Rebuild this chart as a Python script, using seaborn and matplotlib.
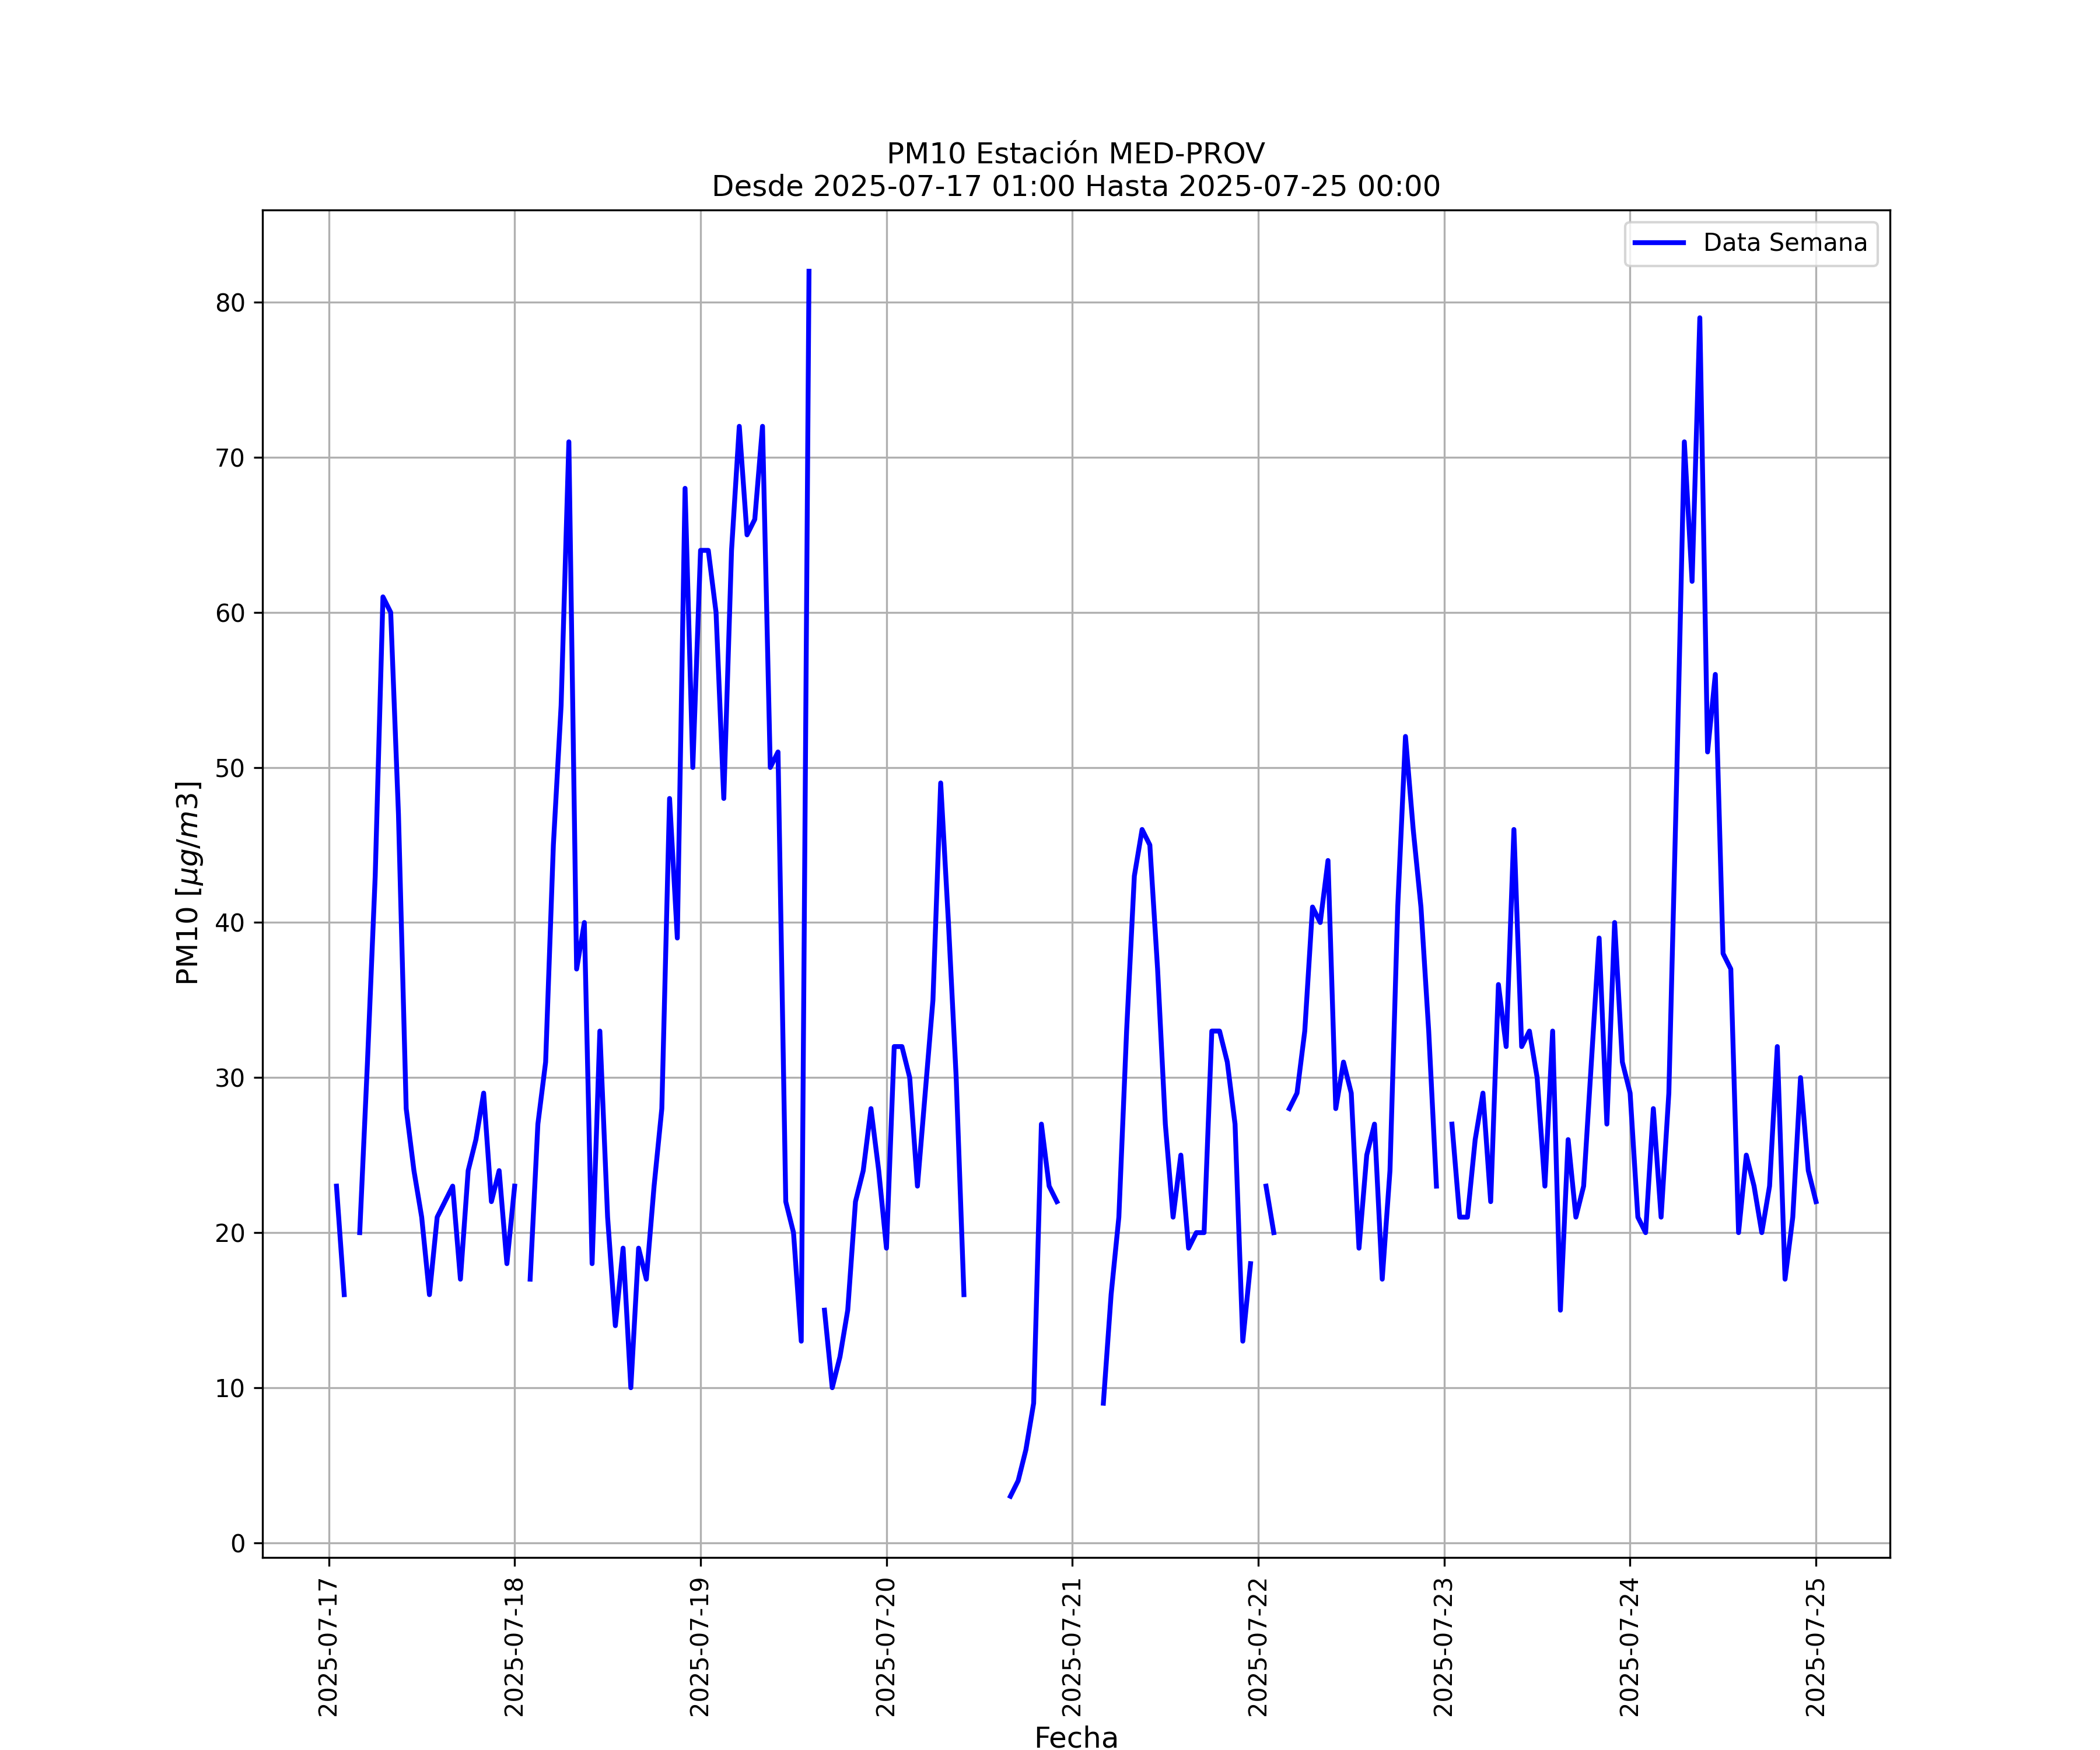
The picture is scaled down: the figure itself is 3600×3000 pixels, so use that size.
import numpy as np
import pandas as pd
import seaborn as sns
import matplotlib
matplotlib.use('Agg')
from matplotlib import pyplot as plt
import matplotlib.dates as mdates

nan = np.nan

# valores horarios PM10, desde 2025-07-17 01:00 hasta 2025-07-25 00:00
dia_17 = [23, 16, nan, 20, 31, 43, 61, 60, 47, 28, 24, 21, 16, 21, 22, 23, 17, 24, 26, 29, 22, 24, 18]
dia_18 = [23, nan, 17, 27, 31, 45, 54, 71, 37, 40, 18, 33, 21, 14, 19, 10, 19, 17, 23, 28, 48, 39, 68, 50]
dia_19 = [64, 64, 60, 48, 64, 72, 65, 66, 72, 50, 51, 22, 20, 13, 82, nan, 15, 10, 12, 15, 22, 24, 28, 24]
dia_20 = [19, 32, 32, 30, 23, 29, 35, 49, 40, 30, 16, nan, nan, nan, nan, nan, 3, 4, 6, 9, 27, 23, 22, nan]
dia_21 = [nan, nan, nan, nan, 9, 16, 21, 33, 43, 46, 45, 37, 27, 21, 25, 19, 20, 20, 33, 33, 31, 27, 13, 18]
dia_22 = [nan, 23, 20, nan, 28, 29, 33, 41, 40, 44, 28, 31, 29, 19, 25, 27, 17, 24, 41, 52, 46, 41, 33, 23]
dia_23 = [nan, 27, 21, 21, 26, 29, 22, 36, 32, 46, 32, 33, 30, 23, 33, 15, 26, 21, 23, 31, 39, 27, 40, 31]
dia_24 = [29, 21, 20, 28, 21, 29, 49, 71, 62, 79, 51, 56, 38, 37, 20, 25, 23, 20, 23, 32, 17, 21, 30, 24]
dia_25 = [22]

inicio = '2025-07-17 01:00'
fin = '2025-07-25 00:00'

pm10 = dia_17 + dia_18 + dia_19 + dia_20 + dia_21 + dia_22 + dia_23 + dia_24 + dia_25
fechas = pd.date_range(inicio, fin, freq='h')

df = pd.DataFrame({'fecha': fechas, 'pm10': pm10})
# segmentos continuos para que los huecos no se unan
df['tramo'] = df['pm10'].isna().cumsum()
df = df.dropna()

fig = plt.figure(figsize=(12, 10))
ax = sns.lineplot(data=df, x='fecha', y='pm10', units='tramo', estimator=None,
                  color='blue', linewidth=2, label='Data Semana')

handles, labels = ax.get_legend_handles_labels()
ax.legend(handles[:1], labels[:1], loc='upper right')

ax.xaxis.set_major_locator(mdates.DayLocator())
ax.xaxis.set_major_formatter(mdates.DateFormatter('%Y-%m-%d'))
plt.xticks(rotation=90)
ax.grid(True)

plt.title('PM10 Estación MED-PROV\nDesde ' + inicio + ' Hasta ' + fin, fontsize=12)
plt.xlabel('Fecha', fontsize=12)
plt.ylabel(r'PM10 [$\mu g/m3$]', fontsize=12)

plt.savefig('out.png', dpi=300)
